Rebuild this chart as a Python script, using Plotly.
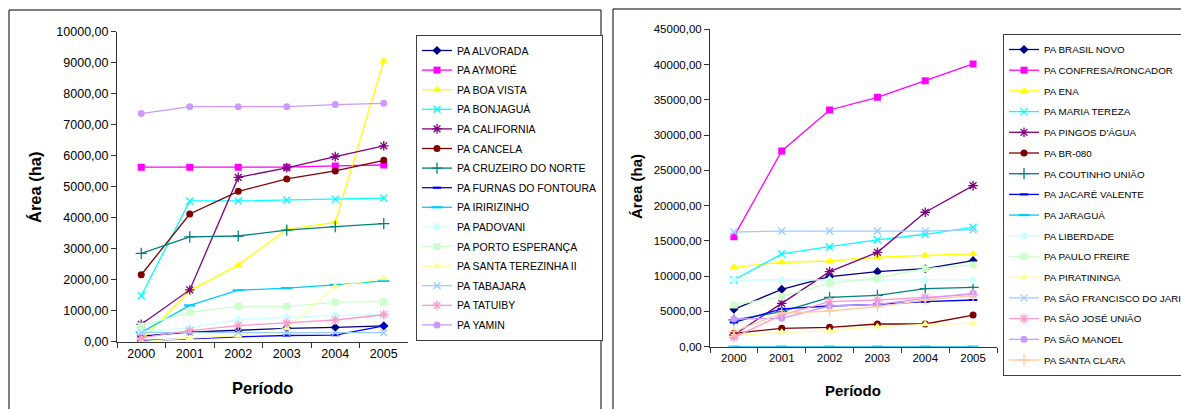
import plotly.graph_objects as go

W, H = 1181, 409

anos = ["2000", "2001", "2002", "2003", "2004", "2005"]

# ---- Assentamentos (gráfico à esquerda) ----
nomes_esq = [
    "PA ALVORADA", "PA AYMORÉ", "PA BOA VISTA", "PA BONJAGUÁ", "PA CALIFORNIA",
    "PA CANCELA", "PA CRUZEIRO DO NORTE", "PA FURNAS DO FONTOURA", "PA IRIRIZINHO",
    "PA PADOVANI", "PA PORTO ESPERANÇA", "PA SANTA TEREZINHA II", "PA TABAJARA",
    "PA TATUIBY", "PA YAMIN",
]
alvorada = [180, 310, 370, 430, 460, 510]
aymore = [5630, 5630, 5630, 5630, 5670, 5700]
boa_vista = [50, 1650, 2470, 3620, 3850, 9060]
bonjagua = [1480, 4540, 4540, 4570, 4600, 4630]
california = [560, 1670, 5300, 5610, 5970, 6320]
cancela = [2160, 4120, 4850, 5250, 5510, 5850]
cruzeiro_norte = [2850, 3380, 3410, 3600, 3710, 3810]
furnas_fontoura = [30, 100, 160, 200, 210, 510]
iririzinho = [300, 1170, 1660, 1730, 1830, 1960]
padovani = [320, 450, 720, 780, 850, 870]
porto_esperanca = [510, 950, 1140, 1140, 1270, 1290]
santa_terezinha = [0, 120, 190, 430, 1780, 2050]
tabajara = [300, 300, 300, 300, 300, 290]
tatuiby = [120, 360, 520, 600, 700, 870]
yamin = [7360, 7580, 7580, 7580, 7650, 7690]

series_esq = [alvorada, aymore, boa_vista, bonjagua, california, cancela,
              cruzeiro_norte, furnas_fontoura, iririzinho, padovani,
              porto_esperanca, santa_terezinha, tabajara, tatuiby, yamin]

# ---- Assentamentos (gráfico à direita) ----
nomes_dir = [
    "PA BRASIL NOVO", "PA CONFRESA/RONCADOR", "PA ENA", "PA MARIA TEREZA",
    "PA PINGOS D'ÁGUA", "PA BR-080", "PA COUTINHO UNIÃO", "PA JACARÉ VALENTE",
    "PA JARAGUÁ", "PA LIBERDADE", "PA PAULO FREIRE", "PA PIRATININGA",
    "PA SÃO FRANCISCO DO JARINA", "PA SÃO JOSÉ UNIÃO", "PA SÃO MANOEL",
    "PA SANTA CLARA",
]
brasil_novo = [5300, 8140, 9930, 10640, 11060, 12200]
confresa_roncador = [15600, 27750, 33560, 35360, 37720, 40090]
ena = [11260, 11970, 12150, 12680, 12960, 13150]
maria_tereza = [9460, 13150, 14180, 15130, 15940, 16930]
pingos_dagua = [1660, 6150, 10640, 13380, 19060, 22830]
br_080 = [1900, 2610, 2750, 3220, 3220, 4490]
coutinho_uniao = [3790, 4960, 7000, 7290, 8220, 8420]
jacare_valente = [3460, 5350, 5770, 6010, 6380, 6620]
jaragua = [0, 0, 0, 0, 0, 0]
liberdade = [9450, 9450, 9450, 9450, 9450, 9480]
paulo_freire = [5910, 7090, 8990, 9740, 11060, 11590]
piratininga = [1560, 2040, 2230, 2840, 3170, 3310]
sao_francisco = [16250, 16400, 16400, 16400, 16400, 16550]
sao_jose_uniao = [1330, 4490, 6380, 6620, 7000, 7430]
sao_manoel = [3930, 4030, 5770, 6010, 6860, 7570]
santa_clara = [2130, 4740, 5060, 5670, 6620, 7230]

series_dir = [brasil_novo, confresa_roncador, ena, maria_tereza, pingos_dagua,
              br_080, coutinho_uniao, jacare_valente, jaragua, liberdade,
              paulo_freire, piratininga, sao_francisco, sao_jose_uniao,
              sao_manoel, santa_clara]

# Excel-style series palette and marker cycle
cores = ["#000080", "#FF00FF", "#FFFF00", "#00FFFF", "#800080", "#800000",
         "#008080", "#0000FF", "#00CCFF", "#CCFFFF", "#CCFFCC", "#FFFF99",
         "#99CCFF", "#FF99CC", "#CC99FF", "#FFCC99"]
simbolos = [("diamond", 7), ("square", 7), ("triangle-up", 8), ("x-thin-open", 7),
            ("asterisk-open", 8), ("circle", 7), ("cross-thin-open", 8),
            ("line-ew-open", 6), ("line-ew-open", 8), ("diamond", 7),
            ("square", 7), ("triangle-up", 8), ("x-thin-open", 7),
            ("asterisk-open", 8), ("circle", 7), ("cross-thin-open", 8)]


def px_x(v):
    return v / W


def px_y(v):
    return 1 - v / H


fig = go.Figure()


def add_series(nomes, series, xa, ya, legend, grupo):
    for i, (nome, vals) in enumerate(zip(nomes, series)):
        simb, tam = simbolos[i]
        cor = cores[i]
        aberto = simb.endswith("-open")
        fig.add_trace(go.Scatter(
            x=anos, y=vals, name=nome, mode="lines+markers",
            xaxis=xa, yaxis=ya, legend=legend,
            legendgroup=f"{grupo}{i}",
            line=dict(color=cor, width=1.3),
            marker=dict(symbol=simb, size=tam, color=cor,
                        line=dict(color=cor, width=2.2 if "line-ew" in simb else 1.3)
                        if aberto else dict(width=0)),
        ))


add_series(nomes_esq, series_esq, "x", "y", "legend", "e")
add_series(nomes_dir, series_dir, "x2", "y2", "legend2", "d")

eixo_x = dict(type="category", range=[-0.5, 5.5], tickson="boundaries",
              ticks="outside", ticklen=5, tickcolor="#333", showline=True,
              linecolor="#333", linewidth=1, showgrid=False, zeroline=False,
              fixedrange=True, automargin=False)
eixo_y = dict(ticks="outside", ticklen=5, tickcolor="#333", showline=True,
              linecolor="#333", linewidth=1, showgrid=False, zeroline=False,
              tickformat=".2f", fixedrange=True, automargin=False)

fig.update_layout(
    width=W, height=H,
    margin=dict(l=0, r=0, t=0, b=0, autoexpand=False),
    paper_bgcolor="white", plot_bgcolor="white",
    separators=",.",
    font=dict(family="Liberation Sans, Arial, sans-serif", color="#000"),
    xaxis=dict(eixo_x, domain=[px_x(117), px_x(408)], anchor="y",
               tickfont=dict(size=12.5)),
    yaxis=dict(eixo_y, domain=[px_y(341.7), px_y(31.7)], anchor="x",
               range=[0, 10000], dtick=1000, tickfont=dict(size=12.5)),
    xaxis2=dict(eixo_x, domain=[px_x(710), px_x(997)], anchor="y2",
                tickfont=dict(size=11.5)),
    yaxis2=dict(eixo_y, domain=[px_y(346.7), px_y(29.3)], anchor="x2",
                range=[0, 45000], dtick=5000, tickfont=dict(size=11.5)),
    legend=dict(x=px_x(416), y=px_y(35), xanchor="left", yanchor="top",
                bgcolor="white", bordercolor="#404040", borderwidth=1,
                font=dict(size=10.5), itemwidth=30, traceorder="grouped",
                tracegroupgap=0.6),
    legend2=dict(x=px_x(1003), y=px_y(34), xanchor="left", yanchor="top",
                 bgcolor="white", bordercolor="#404040", borderwidth=1,
                 font=dict(size=9.8), itemwidth=30, traceorder="grouped",
                 tracegroupgap=1.7),
    showlegend=True,
)

# Axis titles
titulos = [
    dict(text="<b>Área (ha)</b>", x=px_x(35), y=px_y(187), textangle=-90, size=16.5),
    dict(text="<b>Período</b>", x=px_x(262), y=px_y(388), textangle=0, size=16.5),
    dict(text="<b>Área (ha)</b>", x=px_x(636), y=px_y(187), textangle=-90, size=15),
    dict(text="<b>Período</b>", x=px_x(853), y=px_y(390), textangle=0, size=15),
]
for t in titulos:
    fig.add_annotation(text=t["text"], x=t["x"], y=t["y"], xref="paper", yref="paper",
                       showarrow=False, textangle=t["textangle"],
                       xanchor="center", yanchor="middle",
                       font=dict(size=t["size"], color="#000"))

# Chart frames
fig.add_shape(type="rect", xref="paper", yref="paper",
              x0=px_x(9), x1=px_x(601), y0=px_y(415), y1=px_y(10),
              line=dict(color="#000", width=1), layer="below")
fig.add_shape(type="rect", xref="paper", yref="paper",
              x0=px_x(613), x1=px_x(1190), y0=px_y(415), y1=px_y(9),
              line=dict(color="#000", width=1), layer="below")

fig.write_html("out.html")
